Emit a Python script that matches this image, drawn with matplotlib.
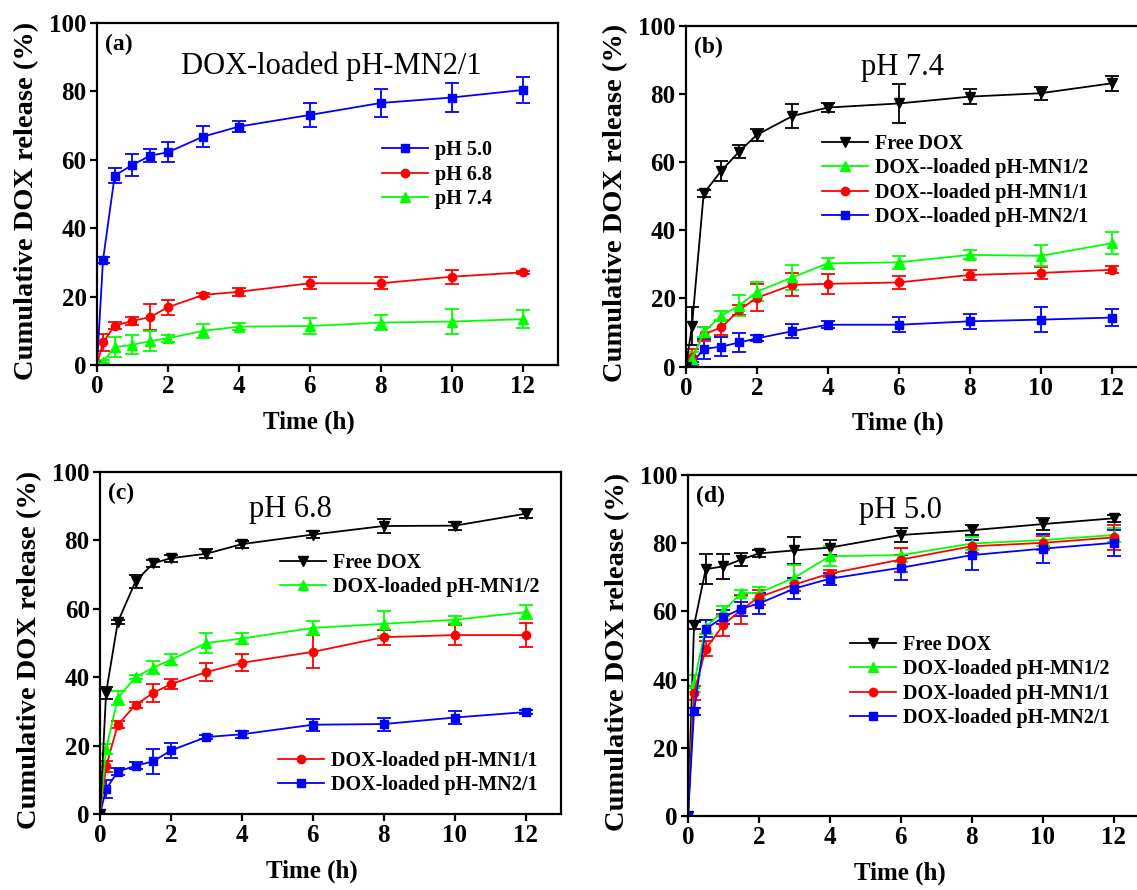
"""
DOX release curves, 4 panels
"""
import matplotlib
matplotlib.use("Agg")
import matplotlib.pyplot as plt

plt.rcParams['font.family'] = ['Liberation Serif', 'DejaVu Serif']
plt.rcParams['font.weight'] = 'bold'
plt.rcParams['axes.linewidth'] = 1.6

# time points (h)
t = [0, 0.17, 0.5, 1, 1.5, 2, 3, 4, 6, 8, 10, 12]

# (a) DOX-loaded pH-MN2/1 at three pH
a_ph50 = [0, 30.7, 55.4, 58.5, 61.2, 62.2, 66.8, 69.7, 73.1, 76.6, 78.2, 80.4]
a_ph50_err = [0, 1.0, 2.3, 3.3, 1.9, 2.9, 3.0, 1.7, 3.6, 4.2, 4.2, 3.9]
a_ph68 = [0, 6.6, 11.5, 12.9, 14.0, 16.9, 20.5, 21.4, 23.9, 23.9, 25.8, 27.1]
a_ph68_err = [0, 2.6, 1.0, 1.1, 3.8, 2.2, 0.5, 1.1, 1.7, 1.8, 2.0, 0.5]
a_ph74 = [0, 1.0, 5.2, 5.9, 7.0, 7.8, 10.0, 11.2, 11.4, 12.4, 12.7, 13.4]
a_ph74_err = [0, 0.5, 3.0, 2.8, 2.8, 1.0, 2.1, 1.0, 2.2, 2.2, 3.7, 2.6]

# (b) pH 7.4
b_free = [0, 12.0, 50.8, 57.5, 63.1, 68.0, 73.5, 76.0, 77.2, 79.2, 80.2, 83.1]
b_free_err = [0, 5.5, 1.0, 2.9, 2.0, 1.8, 3.6, 1.4, 5.6, 2.2, 1.9, 2.2]
b_mn12 = [0, 2.2, 10.1, 15.0, 17.9, 22.0, 26.2, 30.3, 30.6, 32.8, 32.5, 36.2]
b_mn12_err = [0, 2.0, 1.5, 1.2, 3.0, 2.8, 3.7, 1.7, 1.9, 1.3, 3.1, 3.2]
b_mn11 = [0, 2.7, 9.5, 11.5, 16.6, 20.2, 24.0, 24.3, 24.7, 26.9, 27.5, 28.4]
b_mn11_err = [0, 2.5, 2.0, 2.2, 1.5, 4.0, 3.4, 3.0, 1.8, 1.6, 1.8, 1.0]
b_mn21 = [0, 1.0, 5.2, 5.9, 7.1, 8.3, 10.4, 12.3, 12.3, 13.3, 13.8, 14.4]
b_mn21_err = [0, 0.5, 2.9, 2.8, 2.8, 0.9, 2.1, 1.0, 2.2, 2.2, 3.7, 2.6]

# (c) pH 6.8
c_free = [0, 35.4, 56.1, 68.0, 73.3, 74.8, 76.1, 78.9, 81.7, 84.2, 84.3, 87.8]
c_free_err = [0, 1.7, 0.5, 2.0, 1.0, 1.0, 1.4, 1.0, 1.1, 2.1, 1.2, 1.3]
c_mn12 = [0, 18.9, 33.9, 40.0, 42.8, 45.1, 50.0, 51.3, 54.4, 55.6, 56.8, 59.0]
c_mn12_err = [0, 1.5, 2.0, 0.5, 1.8, 1.6, 3.0, 1.5, 2.1, 3.7, 1.0, 2.0]
c_mn11 = [0, 13.9, 26.1, 31.9, 35.4, 38.0, 41.5, 44.2, 47.4, 51.7, 52.3, 52.3]
c_mn11_err = [0, 1.5, 1.0, 0.8, 2.7, 1.4, 2.7, 2.5, 4.8, 2.2, 3.0, 3.6]
c_mn21 = [0, 7.3, 12.4, 14.1, 15.4, 18.6, 22.5, 23.3, 26.1, 26.3, 28.2, 29.8]
c_mn21_err = [0, 2.7, 1.0, 1.0, 3.7, 2.2, 0.5, 1.0, 1.8, 1.9, 2.0, 0.5]

# (d) pH 5.0
d_free = [0, 55.9, 72.4, 73.2, 75.2, 77.0, 77.9, 78.7, 82.4, 83.8, 85.6, 87.3]
d_free_err = [0, 1.0, 4.3, 3.6, 1.9, 1.0, 4.0, 2.1, 2.1, 1.4, 1.7, 1.1]
d_mn12 = [0, 38.9, 55.4, 60.1, 65.4, 65.4, 69.9, 76.2, 76.5, 79.9, 80.9, 82.4]
d_mn12_err = [0, 2.5, 2.0, 1.5, 1.0, 1.7, 3.8, 3.0, 2.0, 2.0, 1.8, 2.0]
d_mn11 = [0, 36.1, 49.0, 56.1, 60.5, 64.2, 67.9, 71.1, 75.2, 79.1, 80.1, 81.7]
d_mn11_err = [0, 2.1, 2.2, 3.2, 4.2, 2.2, 2.0, 1.0, 3.5, 1.9, 2.0, 3.7]
d_mn21 = [0, 30.7, 54.9, 58.3, 60.8, 62.3, 66.7, 69.6, 72.8, 76.5, 78.4, 80.1]
d_mn21_err = [0, 1.0, 2.5, 2.0, 2.0, 3.0, 3.1, 1.8, 3.6, 4.3, 4.3, 3.8]

BLACK, GREEN, RED, BLUE = '#000000', '#00ff00', '#ff0000', '#0000ff'


def curve(ax, y, err, color, marker, label, ms=6):
    c = ax.errorbar(t, y, yerr=err, color=color, marker=marker, ms=ms, lw=1.3,
                    elinewidth=1.3, capsize=4.8, capthick=1.3)
    c[0].set_label(label)
    return c[0]  # data line only, used as legend handle


def style(ax, letter, title, tx, ty):
    ax.set_xlim(0, 13)
    ax.set_ylim(0, 100)
    ax.set_xticks(range(0, 13, 2))
    ax.set_yticks(range(0, 101, 20))
    ax.tick_params(direction='out', length=5, width=1.6, labelsize=18, pad=2.5)
    ax.set_xlabel('Time (h)', fontsize=18, fontweight='bold')
    ax.set_ylabel('Cumulative DOX release (%)', fontsize=20.5, fontweight='bold')
    ax.xaxis.set_label_coords(0.46, -0.167)
    ax.xaxis.label.set_va('center')
    ax.yaxis.set_label_coords(-0.152, 0.48)
    ax.yaxis.label.set_va('center')
    ax.text(0.017, 0.936, letter, transform=ax.transAxes, fontsize=17,
            fontweight='bold', va='center', ha='left')
    ax.text(tx, ty, title, transform=ax.transAxes, fontsize=22,
            fontweight='normal', va='center', ha='center')


def legend(ax, handles, x, y):
    leg = ax.legend(handles=handles, loc='center left', bbox_to_anchor=(x, y),
                    frameon=False, fontsize=14.5, handlelength=2.3,
                    handletextpad=0.35, labelspacing=0.22, borderpad=0,
                    borderaxespad=0)
    return leg


fig = plt.figure(figsize=(11.37, 8.90), dpi=100)
W = 0.4055

# (a)
ax = fig.add_axes([0.0853, 0.5899, W, 0.3843])
h1 = curve(ax, a_ph50, a_ph50_err, BLUE, 's', 'pH 5.0', 5.5)
h2 = curve(ax, a_ph68, a_ph68_err, RED, 'o', 'pH 6.8')
h3 = curve(ax, a_ph74, a_ph74_err, GREEN, '^', 'pH 7.4', 6.5)
style(ax, '(a)', 'DOX-loaded pH-MN2/1', 0.509, 0.872)
legend(ax, [h1, h2, h3], 0.618, 0.556)

# (b)
ax = fig.add_axes([0.6033, 0.588, W, 0.3831])
h4 = curve(ax, b_mn21, b_mn21_err, BLUE, 's', 'DOX--loaded pH-MN2/1', 5.5)
h3 = curve(ax, b_mn11, b_mn11_err, RED, 'o', 'DOX--loaded pH-MN1/1')
h2 = curve(ax, b_mn12, b_mn12_err, GREEN, '^', 'DOX--loaded pH-MN1/2', 6.5)
h1 = curve(ax, b_free, b_free_err, BLACK, 'v', 'Free DOX', 6.5)
style(ax, '(b)', 'pH 7.4', 0.47, 0.876)
legend(ax, [h1, h2, h3, h4], 0.295, 0.546)

# (c)
ax = fig.add_axes([0.088, 0.0854, W, 0.3843])
h4 = curve(ax, c_mn21, c_mn21_err, BLUE, 's', 'DOX-loaded pH-MN2/1', 5.5)
h3 = curve(ax, c_mn11, c_mn11_err, RED, 'o', 'DOX-loaded pH-MN1/1')
h2 = curve(ax, c_mn12, c_mn12_err, GREEN, '^', 'DOX-loaded pH-MN1/2', 6.5)
h1 = curve(ax, c_free, c_free_err, BLACK, 'v', 'Free DOX', 6.5)
style(ax, '(c)', 'pH 6.8', 0.414, 0.89)
top = legend(ax, [h1, h2], 0.39, 0.699)
ax.add_artist(top)
legend(ax, [h3, h4], 0.386, 0.12)

# (d)
ax = fig.add_axes([0.6051, 0.0831, W, 0.3832])
h1 = curve(ax, d_free, d_free_err, BLACK, 'v', 'Free DOX', 6.5)
h2 = curve(ax, d_mn12, d_mn12_err, GREEN, '^', 'DOX-loaded pH-MN1/2', 6.5)
h3 = curve(ax, d_mn11, d_mn11_err, RED, 'o', 'DOX-loaded pH-MN1/1')
h4 = curve(ax, d_mn21, d_mn21_err, BLUE, 's', 'DOX-loaded pH-MN2/1', 5.5)
style(ax, '(d)', 'pH 5.0', 0.46, 0.897)
legend(ax, [h1, h2, h3, h4], 0.351, 0.394)

plt.savefig('out.png', dpi=100)
